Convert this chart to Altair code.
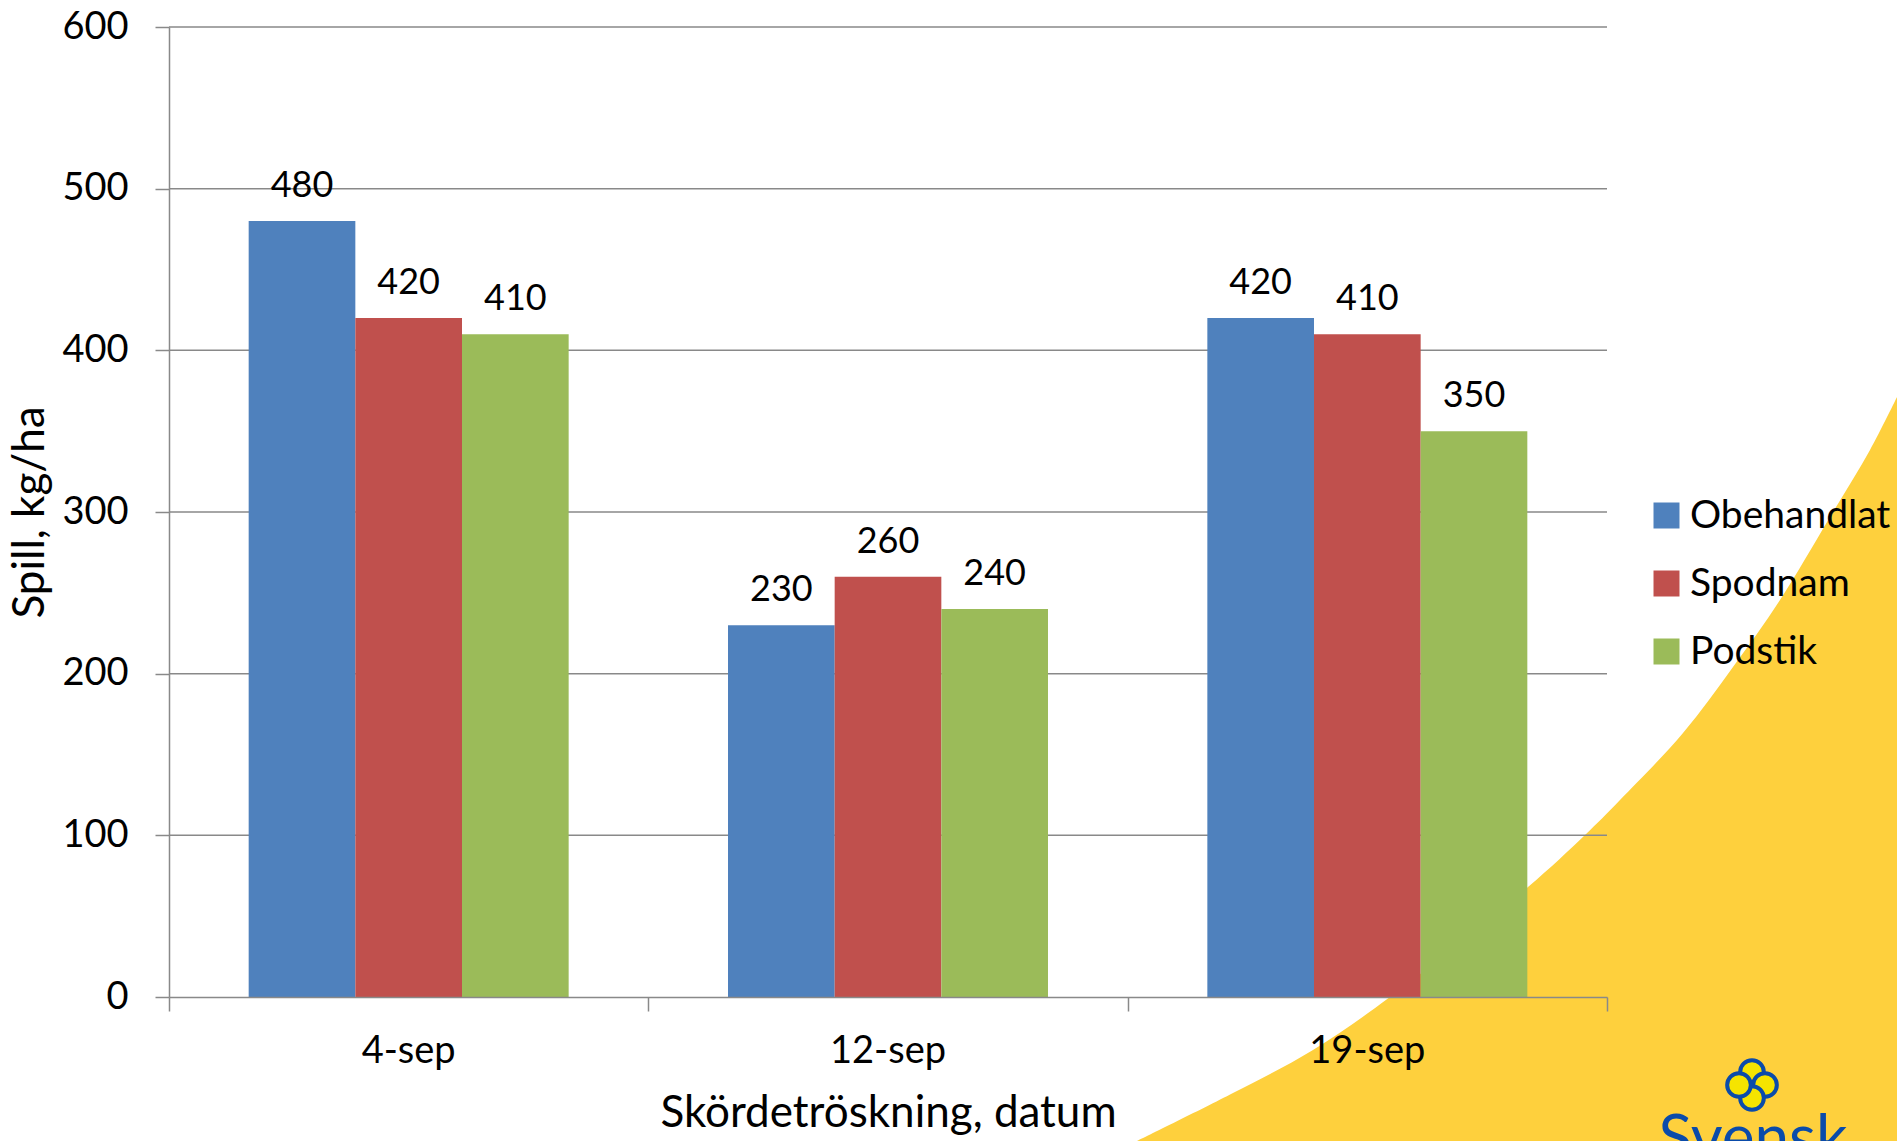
import altair as alt
import pandas as pd

# --- chart data ---------------------------------------------------------
dates = ["4-sep", "12-sep", "19-sep"]
treatments = ["Obehandlat", "Spodnam", "Podstik"]
obehandlat = [480, 230, 420]
spodnam = [420, 260, 410]
podstik = [410, 240, 350]
y_ticks = [0, 100, 200, 300, 400, 500, 600]
category_edges = [0, 1, 2, 3]
colors = ["#4F81BD", "#C0504D", "#9BBB59"]

# --- page decoration (page pixel coordinates) ----------------------------
swoosh_x = [1137, 1233, 1313, 1390, 1528, 1585, 1620, 1683, 1733, 1780, 1830, 1870, 1897]
swoosh_y = [1141, 1093, 1050, 997, 887, 835, 800, 733, 667, 600, 517, 450, 397]
logo_x = [1752, 1765, 1752, 1739]
logo_y = [1072, 1085, 1098, 1085]
brand_text = ["Svensk"]
brand_x = [1753]
brand_y = [1110]

W, H = 1897, 1141
PLOT_L, PLOT_T, PLOT_R, PLOT_B = 169, 27, 1607, 997
FONT = "Lato"
GRAY = "#898989"
YELLOW = "#FED03D"
BRAND_BLUE = "#0A4BAA"

rows = []
for i, d in enumerate(dates):
    for t, vals in zip(treatments, [obehandlat, spodnam, podstik]):
        rows.append({"datum": d, "behandling": t, "spill": vals[i]})
df = pd.DataFrame(rows)

# --- shared encodings for the bar chart ----------------------------------
x_enc = alt.X(
    "datum:N",
    sort=dates,
    scale=alt.Scale(paddingInner=0, paddingOuter=0),
    axis=alt.Axis(
        title="Skördetröskning, datum",
        orient="bottom",
        ticks=False,
        tickSize=0,
        grid=False,
        labelAngle=0,
        labelPadding=54,
        labelBaseline="middle",
        labelFont=FONT,
        labelFontSize=38,
        labelColor="black",
        domainColor=GRAY,
        domainWidth=1.5,
        titleFont=FONT,
        titleFontSize=44,
        titleFontWeight="normal",
        titleColor="black",
        titleX=719,
        titleY=116,
        titleAlign="center",
        titleBaseline="middle",
        zindex=1,
    ),
)
xoff_enc = alt.XOffset(
    "behandling:N",
    sort=treatments,
    scale=alt.Scale(paddingInner=0, paddingOuter=0.747),
)
y_enc = alt.Y(
    "spill:Q",
    scale=alt.Scale(domain=[0, 600], nice=False, zero=True),
    axis=alt.Axis(
        values=y_ticks,
        title="Spill, kg/ha",
        grid=False,
        tickSize=14,
        tickColor=GRAY,
        tickWidth=1.5,
        domainColor=GRAY,
        domainWidth=1.5,
        labelPadding=27,
        labelFont=FONT,
        labelFontSize=38,
        labelColor="black",
        titleFont=FONT,
        titleFontSize=44,
        titleFontWeight="normal",
        titleColor="black",
        titleX=-139,
        titleY=485,
        titleAngle=270,
        titleAlign="center",
        titleBaseline="middle",
        zindex=1,
    ),
)
color_enc = alt.Color(
    "behandling:N",
    sort=treatments,
    scale=alt.Scale(domain=treatments, range=colors),
    legend=alt.Legend(
        title=None,
        orient="none",
        legendX=1478,
        legendY=469,
        symbolType="square",
        symbolSize=676,
        symbolStrokeWidth=0,
        symbolOpacity=1,
        labelFont=FONT,
        labelFontSize=39,
        labelColor="black",
        labelOffset=4,
        labelLimit=0,
        rowPadding=28,
        padding=0,
        zindex=1,
    ),
)

# horizontal gridlines sit above the background but under the bars
grid = (
    alt.Chart(pd.DataFrame({"spill": y_ticks[1:]}))
    .mark_rule(color=GRAY, strokeWidth=1.5)
    .encode(y=y_enc)
)

bars = alt.Chart(df).mark_bar().encode(
    x=x_enc, xOffset=xoff_enc, y=y_enc, color=color_enc
)

labels = (
    alt.Chart(df)
    .mark_text(font=FONT, fontSize=36, baseline="alphabetic", dy=-24, color="black")
    .encode(x=x_enc, xOffset=xoff_enc, y=y_enc, text="spill:Q")
)

main = alt.layer(grid, bars, labels)

# tick marks on the category boundaries of the x axis
edge_ticks = (
    alt.Chart(pd.DataFrame({"edge": category_edges}))
    .mark_point(opacity=0)
    .encode(
        x=alt.X(
            "edge:Q",
            scale=alt.Scale(domain=[0, 3], nice=False, zero=False),
            axis=alt.Axis(
                values=category_edges,
                orient="bottom",
                labels=False,
                ticks=True,
                tickSize=14,
                tickColor=GRAY,
                tickWidth=1.5,
                domain=False,
                grid=False,
                title=None,
                zindex=1,
            ),
        )
    )
)

# --- background swoosh and brand mark ------------------------------------
xs = alt.Scale(domain=[PLOT_L, PLOT_R], nice=False, zero=False)
ys = alt.Scale(domain=[PLOT_T, PLOT_B], nice=False, zero=False, reverse=True)

swoosh = (
    alt.Chart(pd.DataFrame({"px": swoosh_x, "py": swoosh_y}))
    .mark_area(color=YELLOW, interpolate="catmull-rom", orient="vertical")
    .encode(
        x=alt.X("px:Q", scale=xs, axis=None),
        y=alt.Y("py:Q", scale=ys, axis=None),
        y2=alt.datum(H),
    )
)

logo = (
    alt.Chart(pd.DataFrame({"px": logo_x, "py": logo_y}))
    .mark_point(shape="circle", fill="#F5E400", fillOpacity=1, stroke=BRAND_BLUE,
                strokeWidth=4, size=560, opacity=1)
    .encode(
        x=alt.X("px:Q", scale=xs, axis=None),
        y=alt.Y("py:Q", scale=ys, axis=None),
    )
)

brand = (
    alt.Chart(pd.DataFrame({"px": brand_x, "py": brand_y, "t": brand_text}))
    .mark_text(font=FONT, fontSize=62, color=BRAND_BLUE, baseline="top", align="center")
    .encode(
        x=alt.X("px:Q", scale=xs, axis=None),
        y=alt.Y("py:Q", scale=ys, axis=None),
        text="t:N",
    )
)

decor = alt.layer(swoosh, logo, brand)

chart = (
    alt.layer(decor, main, edge_ticks)
    .resolve_scale(x="independent", y="independent")
    .properties(
        width=PLOT_R - PLOT_L,
        height=PLOT_B - PLOT_T,
        padding={"left": PLOT_L, "top": PLOT_T, "right": W - PLOT_R, "bottom": H - PLOT_B},
        autosize=alt.AutoSizeParams(type="none"),
        background="white",
    )
    .configure_view(stroke=None)
)

chart.save("out.html", embed_options={"renderer": "svg", "actions": False})
